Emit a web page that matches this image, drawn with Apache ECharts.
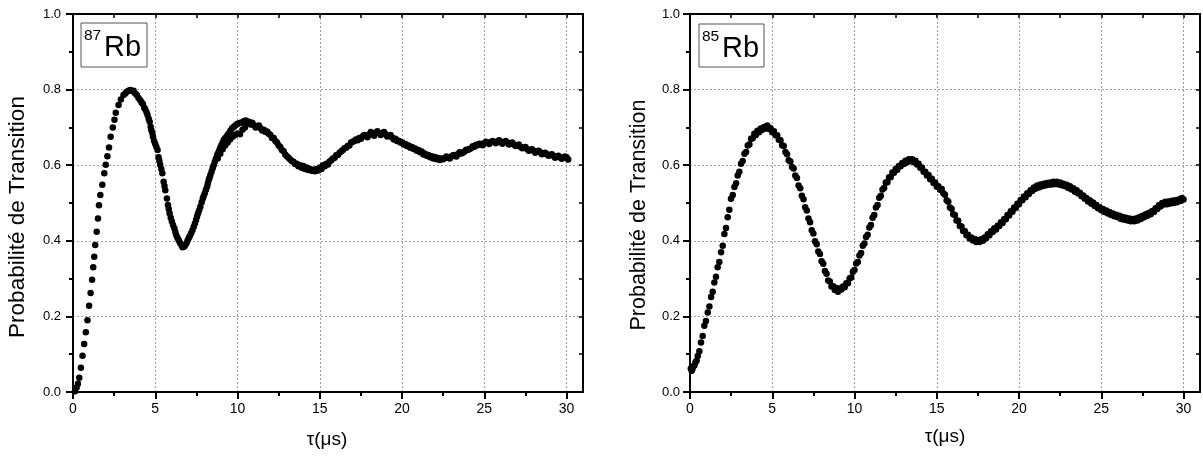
<!DOCTYPE html>
<html><head><meta charset="utf-8">
<script src="https://cdn.jsdelivr.net/npm/echarts@6/dist/echarts.min.js"></script>
<style>html,body{margin:0;padding:0;background:#fff}#c{width:1203px;height:463px}</style>
</head><body><div id="c"></div>
<script>
const xMajor = [0, 5, 10, 15, 20, 25, 30];
const xMinor = [2.5, 7.5, 12.5, 17.5, 22.5, 27.5];
const yMajor = [0, 0.2, 0.4, 0.6, 0.8, 1.0];
const yMinor = [0.1, 0.3, 0.5, 0.7, 0.9];
const isotopes = ['87', '85'];
const yTitle = 'Probabilité de Transition';
const xTitle = 'τ(μs)';

// 87Rb : [tau (µs), probability]
const rb87 = [
[0.12,0.002],[0.22,0.012],[0.30,0.022],[0.38,0.038],[0.48,0.064],[0.58,0.096],[0.68,0.127],[0.78,0.158],[0.88,0.190],[0.98,0.228],
[1.07,0.262],[1.16,0.297],[1.23,0.330],[1.29,0.358],[1.35,0.389],[1.44,0.424],[1.52,0.459],[1.58,0.494],[1.66,0.521],[1.78,0.548],
[1.90,0.579],[1.99,0.601],[2.09,0.624],[2.19,0.647],[2.29,0.675],[2.42,0.700],[2.52,0.720],[2.60,0.739],[2.77,0.759],[2.91,0.774],
[3.07,0.786],[3.18,0.790],[3.27,0.794],[3.38,0.797],[3.48,0.799],[3.58,0.796],[3.68,0.797],[3.78,0.790],[3.88,0.786],[3.98,0.778],
[4.09,0.772],[4.17,0.766],[4.25,0.762],[4.33,0.752],[4.39,0.748],[4.47,0.740],[4.53,0.733],[4.60,0.723],[4.66,0.715],[4.72,0.702],
[4.76,0.693],[4.82,0.685],[4.86,0.675],[4.93,0.664],[5.00,0.656],[5.07,0.648],[5.14,0.640],[5.20,0.621],[5.25,0.612],[5.30,0.601],
[5.37,0.590],[5.43,0.579],[5.51,0.556],[5.56,0.545],[5.61,0.534],[5.71,0.512],[5.77,0.495],[5.82,0.484],[5.87,0.473],[5.94,0.461],
[6.01,0.451],[6.08,0.442],[6.16,0.433],[6.22,0.423],[6.28,0.415],[6.35,0.408],[6.42,0.402],[6.50,0.395],[6.59,0.389],[6.66,0.383],
[6.73,0.384],[6.80,0.387],[6.89,0.393],[6.96,0.400],[7.03,0.407],[7.10,0.413],[7.18,0.420],[7.26,0.428],[7.34,0.437],[7.41,0.446],
[7.48,0.455],[7.54,0.464],[7.60,0.473],[7.67,0.481],[7.74,0.490],[7.82,0.502],[7.89,0.512],[7.95,0.519],[8.01,0.526],[8.08,0.535],
[8.15,0.543],[8.20,0.552],[8.25,0.561],[8.30,0.567],[8.35,0.574],[8.42,0.583],[8.49,0.592],[8.55,0.600],[8.62,0.609],[8.69,0.618],
[8.76,0.627],[8.83,0.633],[8.90,0.640],[8.96,0.647],[9.02,0.653],[9.10,0.660],[9.17,0.667],[9.25,0.671],[9.33,0.675],[9.40,0.680],
[9.47,0.684],[9.57,0.691],[9.67,0.698],[9.78,0.702],[9.88,0.706],[9.98,0.709],[10.08,0.711],[10.23,0.713],[10.38,0.716],[10.50,0.718],
[10.60,0.713],[10.69,0.715],
[8.80,0.618],[8.95,0.630],[9.10,0.642],[9.25,0.652],[9.40,0.660],[9.55,0.668],[9.70,0.675],[9.85,0.680],[10.00,0.684],[10.15,0.682],
[10.30,0.694],[10.45,0.700],
[10.8,0.708],[10.9,0.712],[11.0,0.706],[11.1,0.700],[11.2,0.702],[11.3,0.705],[11.4,0.698],[11.5,0.692],[11.6,0.694],[11.7,0.688],
[11.8,0.689],[11.9,0.683],[12.0,0.680],[12.1,0.672],[12.2,0.672],[12.3,0.664],[12.4,0.660],[12.5,0.652],[12.6,0.648],[12.7,0.640],
[12.8,0.637],[12.9,0.628],[13.0,0.624],[13.1,0.620],[13.2,0.615],[13.3,0.611],[13.4,0.609],[13.5,0.603],[13.6,0.604],[13.7,0.597],
[13.8,0.600],[13.9,0.593],[14.0,0.598],[14.1,0.590],[14.2,0.594],[14.3,0.587],[14.4,0.590],[14.5,0.585],[14.6,0.588],[14.7,0.584],
[14.8,0.590],[14.9,0.586],[15.0,0.594],[15.1,0.590],[15.2,0.600],[15.3,0.597],[15.4,0.604],[15.5,0.602],[15.6,0.610],[15.7,0.613],
[15.8,0.618],[15.9,0.620],[16.0,0.626],[16.1,0.627],[16.2,0.633],[16.3,0.636],[16.4,0.640],[16.5,0.645],[16.6,0.646],[16.7,0.651],
[16.8,0.652],[16.9,0.660],[17.0,0.662],[17.1,0.664],[17.2,0.668],[17.3,0.666],[17.4,0.672],[17.5,0.670],[17.6,0.676],[17.7,0.680],
[17.8,0.679],[17.9,0.674],[18.0,0.681],[18.1,0.688],[18.2,0.683],[18.3,0.678],[18.4,0.686],[18.5,0.690],[18.6,0.685],[18.7,0.680],
[18.8,0.684],[18.9,0.688],[19.0,0.682],[19.1,0.676],[19.2,0.678],[19.3,0.680],[19.4,0.673],[19.5,0.668],[19.6,0.670],[19.7,0.664],
[19.8,0.665],[19.9,0.660],[20.0,0.661],[20.1,0.655],[20.2,0.656],[20.3,0.651],[20.4,0.652],[20.5,0.646],[20.6,0.648],[20.7,0.643],
[20.8,0.644],[20.9,0.638],[21.0,0.640],[21.1,0.634],[21.2,0.636],[21.3,0.628],[21.4,0.630],[21.5,0.625],[21.6,0.627],[21.7,0.621],
[21.8,0.624],[21.9,0.618],[22.0,0.622],[22.1,0.616],[22.2,0.619],[22.3,0.614],[22.4,0.618],[22.5,0.616],[22.6,0.619],[22.7,0.623],
[22.8,0.621],[22.9,0.618],[23.0,0.623],[23.1,0.626],[23.2,0.627],[23.3,0.623],[23.4,0.629],[23.5,0.634],[23.6,0.631],[23.7,0.633],
[23.8,0.636],[23.9,0.641],[24.0,0.640],[24.1,0.643],[24.2,0.645],[24.3,0.650],[24.4,0.649],[24.5,0.654],[24.6,0.653],[24.7,0.657],
[24.8,0.656],[24.9,0.653],[25.0,0.658],[25.1,0.662],[25.2,0.660],[25.3,0.656],[25.4,0.661],[25.5,0.664],[25.6,0.662],[25.7,0.658],
[25.8,0.662],[25.9,0.666],[26.0,0.662],[26.1,0.657],[26.2,0.661],[26.3,0.664],[26.4,0.660],[26.5,0.655],[26.6,0.658],[26.7,0.660],
[26.8,0.655],[26.9,0.651],[27.0,0.652],[27.1,0.655],[27.2,0.649],[27.3,0.645],[27.4,0.646],[27.5,0.648],[27.6,0.643],[27.7,0.638],
[27.8,0.640],[27.9,0.642],[28.0,0.638],[28.1,0.633],[28.2,0.636],[28.3,0.638],[28.4,0.634],[28.5,0.629],[28.6,0.631],[28.7,0.633],
[28.8,0.629],[28.9,0.625],[29.0,0.627],[29.1,0.629],[29.2,0.625],[29.3,0.620],[29.4,0.623],[29.5,0.625],[29.6,0.621],[29.7,0.617],
[29.8,0.620],[29.9,0.623],[30.0,0.621],[30.1,0.615]
];

// 85Rb : [tau (µs), probability]
const rb85 = [
[0.05,0.062],[0.10,0.056],[0.15,0.061],[0.20,0.068],[0.27,0.070],[0.33,0.079],[0.40,0.083],[0.47,0.095],[0.57,0.108],[0.67,0.131],
[0.77,0.148],[0.87,0.175],[0.97,0.188],[1.08,0.210],[1.18,0.226],[1.28,0.251],[1.38,0.265],[1.48,0.290],[1.58,0.305],[1.68,0.330],
[1.78,0.344],[1.89,0.370],[1.99,0.387],[2.09,0.418],[2.19,0.434],[2.29,0.462],[2.39,0.482],[2.49,0.511],[2.60,0.521],[2.70,0.542],
[2.80,0.552],[2.90,0.573],[3.00,0.583],[3.10,0.604],[3.20,0.611],[3.31,0.630],[3.41,0.635],[3.51,0.652],[3.61,0.655],[3.71,0.670],
[3.81,0.671],[3.91,0.683],[4.00,0.680],[4.10,0.691],[4.20,0.687],[4.30,0.697],[4.40,0.694],[4.50,0.701],[4.60,0.697],[4.70,0.705],
[4.80,0.696],[4.90,0.698],[5.00,0.687],[5.10,0.690],[5.20,0.679],[5.30,0.679],[5.40,0.667],[5.50,0.666],[5.60,0.653],[5.70,0.651],
[5.80,0.635],[5.90,0.629],[6.00,0.613],[6.10,0.610],[6.20,0.595],[6.30,0.591],[6.40,0.573],[6.50,0.566],[6.60,0.546],[6.70,0.539],
[6.80,0.519],[6.90,0.510],[7.00,0.489],[7.10,0.480],[7.20,0.459],[7.30,0.449],[7.40,0.428],[7.50,0.419],[7.60,0.399],[7.70,0.391],
[7.80,0.372],[7.90,0.365],[8.00,0.346],[8.10,0.339],[8.20,0.320],[8.30,0.313],[8.40,0.295],[8.50,0.292],[8.60,0.279],[8.70,0.280],
[8.80,0.270],[8.90,0.275],[9.00,0.265],[9.10,0.274],[9.20,0.271],[9.30,0.279],[9.40,0.277],[9.50,0.288],[9.60,0.288],[9.70,0.300],
[9.80,0.303],[9.90,0.318],[10.00,0.323],[10.10,0.340],[10.20,0.344],[10.30,0.361],[10.40,0.368],[10.50,0.387],[10.60,0.393],[10.70,0.410],
[10.80,0.416],[10.90,0.435],[11.00,0.442],[11.10,0.461],[11.20,0.468],[11.30,0.488],[11.40,0.495],[11.50,0.514],[11.60,0.519],[11.70,0.536],
[11.80,0.540],[11.90,0.554],[12.00,0.555],[12.10,0.568],[12.20,0.568],[12.30,0.581],[12.40,0.580],[12.50,0.590],[12.60,0.588],[12.70,0.598],
[12.80,0.597],[12.90,0.606],[13.00,0.603],[13.10,0.612],[13.20,0.608],[13.30,0.616],[13.40,0.611],[13.50,0.616],[13.60,0.608],[13.70,0.612],
[13.80,0.602],[13.90,0.604],[14.00,0.593],[14.10,0.594],[14.20,0.583],[14.30,0.583],[14.40,0.573],[14.50,0.574],[14.60,0.563],[14.70,0.564],
[14.80,0.553],[14.90,0.554],[15.00,0.543],[15.10,0.544],[15.20,0.535],[15.30,0.537],[15.40,0.526],[15.50,0.522],[15.60,0.507],[15.70,0.503],
[15.80,0.488],[15.90,0.485],[16.00,0.470],[16.10,0.468],[16.20,0.454],[16.30,0.453],[16.40,0.439],[16.50,0.438],[16.60,0.426],[16.70,0.426],
[16.80,0.415],[16.90,0.416],[17.00,0.406],[17.10,0.409],[17.20,0.401],[17.30,0.405],[17.40,0.397],[17.50,0.402],[17.60,0.397],[17.70,0.404],
[17.80,0.400],[17.90,0.409],[18.00,0.407],[18.10,0.417],[18.20,0.415],[18.30,0.425],[18.40,0.423],[18.50,0.433],[18.60,0.430],[18.70,0.440],
[18.80,0.439],[18.90,0.449],[19.00,0.447],[19.10,0.458],[19.20,0.457],[19.30,0.468],[19.40,0.467],[19.50,0.478],[19.60,0.477],[19.70,0.488],
[19.80,0.487],[19.90,0.498],[20.00,0.497],[20.10,0.508],[20.20,0.507],[20.30,0.517],[20.40,0.515],[20.50,0.526],[20.60,0.524],[20.70,0.534],
[20.80,0.532],[20.90,0.541],[21.00,0.538],[21.10,0.546],[21.20,0.541],[21.30,0.549],[21.40,0.544],[21.50,0.551],[21.60,0.546],[21.70,0.553],
[21.80,0.548],[21.90,0.554],[22.00,0.549],[22.10,0.556],[22.20,0.550],[22.30,0.556],[22.40,0.549],[22.50,0.554],[22.60,0.547],[22.70,0.551],
[22.80,0.544],[22.90,0.548],[23.00,0.540],[23.10,0.544],[23.20,0.536],[23.30,0.539],[23.40,0.530],[23.50,0.534],[23.60,0.525],[23.70,0.527],
[23.80,0.518],[23.90,0.520],[24.00,0.511],[24.10,0.513],[24.20,0.504],[24.30,0.507],[24.40,0.498],[24.50,0.501],[24.60,0.492],[24.70,0.495],
[24.80,0.486],[24.90,0.489],[25.00,0.481],[25.10,0.484],[25.20,0.476],[25.30,0.480],[25.40,0.472],[25.50,0.476],[25.60,0.468],[25.70,0.472],
[25.80,0.465],[25.90,0.469],[26.00,0.462],[26.10,0.466],[26.20,0.458],[26.30,0.463],[26.40,0.456],[26.50,0.461],[26.60,0.454],[26.70,0.459],
[26.80,0.452],[26.90,0.458],[27.00,0.452],[27.10,0.459],[27.20,0.454],[27.30,0.462],[27.40,0.458],[27.50,0.466],[27.60,0.462],[27.70,0.470],
[27.80,0.466],[27.90,0.474],[28.00,0.470],[28.10,0.479],[28.20,0.476],[28.30,0.486],[28.40,0.484],[28.50,0.494],[28.60,0.491],[28.70,0.500],
[28.80,0.496],[28.90,0.503],[29.00,0.497],[29.10,0.504],[29.20,0.499],[29.30,0.506],[29.40,0.500],[29.50,0.507],[29.60,0.502],[29.70,0.509],
[29.80,0.505],[29.90,0.513],[30.00,0.509]
];

const FONT = 'Liberation Sans, Arial, Helvetica, sans-serif';
const grids = [
  {left: 73, top: 14, width: 510, height: 378},
  {left: 690, top: 14, width: 510, height: 378}
];
const yLabelMargin = [12, 10];
const axisLine = {show: true, onZero: false, lineStyle: {color: '#000', width: 2}};
const grid = {show: true, lineStyle: {color: '#a0a0a0', width: 1, type: [2, 2]}};
const xAxes = [], yAxes = [];
grids.forEach((g, i) => {
  xAxes.push(
    {type: 'value', gridIndex: i, min: 0, max: 31, interval: 2.5, position: 'bottom',
     axisLine, splitLine: grid,
     axisTick: {show: true, length: 7, customValues: xMajor, lineStyle: {color: '#000', width: 2}},
     axisLabel: {show: true, customValues: xMajor, margin: 10, fontFamily: FONT, fontSize: 14, color: '#000',
                 formatter: v => String(v)}},
    {type: 'value', gridIndex: i, min: 0, max: 31, position: 'bottom',
     axisLine: {show: false}, splitLine: {show: false}, axisLabel: {show: false},
     axisTick: {show: true, length: 4, customValues: xMinor, lineStyle: {color: '#000', width: 2}}},
    {type: 'value', gridIndex: i, min: 0, max: 31, position: 'top',
     axisLine, splitLine: {show: false}, axisLabel: {show: false},
     axisTick: {show: true, inside: true, length: 4, customValues: xMajor.concat(xMinor), lineStyle: {color: '#000', width: 1.5}}}
  );
  yAxes.push(
    {type: 'value', gridIndex: i, min: 0, max: 1, interval: 0.1, position: 'left',
     axisLine, splitLine: grid,
     axisTick: {show: true, length: 7, customValues: yMajor, lineStyle: {color: '#000', width: 2}},
     axisLabel: {show: true, customValues: yMajor, margin: yLabelMargin[i], fontFamily: FONT, fontSize: 13, color: '#000',
                 formatter: v => v.toFixed(1)}},
    {type: 'value', gridIndex: i, min: 0, max: 1, position: 'left',
     axisLine: {show: false}, splitLine: {show: false}, axisLabel: {show: false},
     axisTick: {show: true, length: 4, customValues: yMinor, lineStyle: {color: '#000', width: 2}}},
    {type: 'value', gridIndex: i, min: 0, max: 1, position: 'right',
     axisLine, splitLine: {show: false}, axisLabel: {show: false},
     axisTick: {show: true, inside: true, length: 4, customValues: yMajor.concat(yMinor), lineStyle: {color: '#000', width: 1.5}}}
  );
});

const datasets = [rb87, rb85];
const series = datasets.map((d, i) => ({
  type: 'scatter', xAxisIndex: i * 3, yAxisIndex: i * 3, data: d,
  symbol: 'circle', symbolSize: 6.5, itemStyle: {color: '#000', opacity: 1}, silent: true, z: 3
}));

const graphic = [];
const boxes = [{x: 81, y: 23, w: 66, h: 44}, {x: 699, y: 24, w: 65, h: 43}];
boxes.forEach((b, i) => {
  graphic.push({type: 'rect', shape: {x: b.x, y: b.y, width: b.w, height: b.h},
    style: {fill: '#fff', stroke: '#555', lineWidth: 1}, z: 10});
  graphic.push({type: 'text', x: b.x + 3, y: b.y + 12.5,
    style: {text: isotopes[i], font: '15.5px ' + FONT, fill: '#000', textVerticalAlign: 'middle'}, z: 11});
  graphic.push({type: 'text', x: b.x + 23, y: b.y + 25,
    style: {text: 'Rb', font: '29px ' + FONT, fill: '#000', textVerticalAlign: 'middle'}, z: 11});
});
[{x: 18, y: 217, s: 22.5}, {x: 639, y: 215, s: 21.5}].forEach(p => {
  graphic.push({type: 'text', x: p.x, y: p.y, rotation: Math.PI / 2,
    style: {text: yTitle, font: p.s + 'px ' + FONT, fill: '#000', textAlign: 'center', textVerticalAlign: 'middle'}});
});
[{x: 327, y: 440}, {x: 945, y: 437}].forEach(p => {
  graphic.push({type: 'text', x: p.x, y: p.y,
    style: {text: xTitle, font: '19px ' + FONT, fill: '#000', textAlign: 'center', textVerticalAlign: 'middle'}});
});

const chart = echarts.init(document.getElementById('c'), null, {renderer: 'canvas'});
chart.setOption({
  animation: false,
  backgroundColor: '#fff',
  grid: grids,
  xAxis: xAxes,
  yAxis: yAxes,
  series,
  graphic
});
</script>
</body></html>
